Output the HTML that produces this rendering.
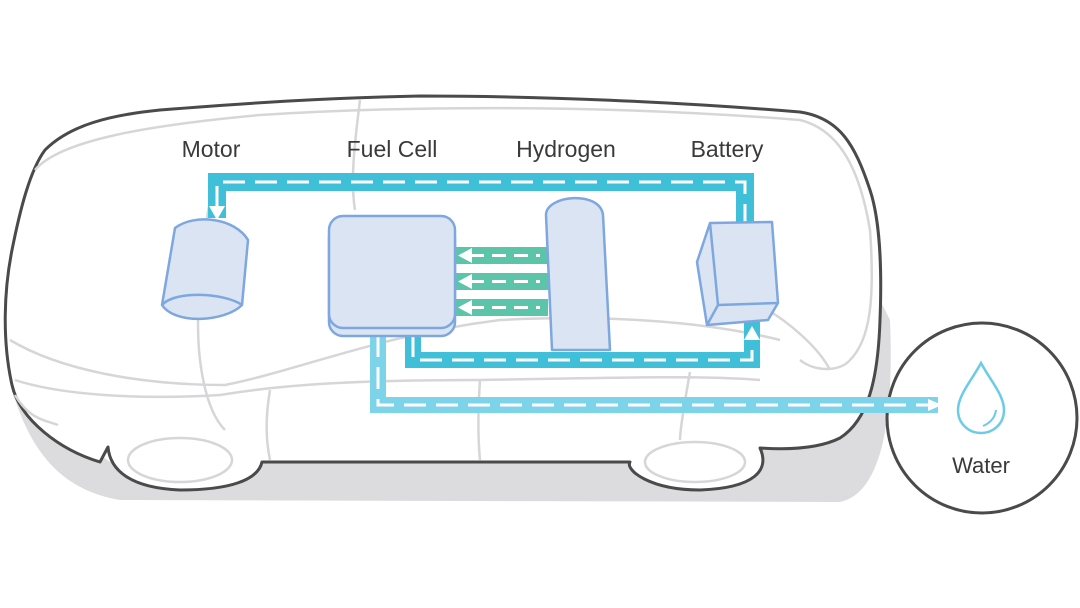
<!DOCTYPE html>
<html><head><meta charset="utf-8"><style>
html,body{margin:0;padding:0;background:#fff}
svg{display:block}
text{font-family:"Liberation Sans",sans-serif;fill:#3a3a3a}
</style></head><body>
<svg width="1080" height="608" viewBox="0 0 1080 608" xmlns="http://www.w3.org/2000/svg">
<!-- shadow -->
<path d="M12,390 C30,450 60,490 120,500 L840,502 C875,495 895,440 890,320 L880,300 L870,390 C860,430 820,450 790,448 L110,462 Z" fill="#dcdcde"/>
<!-- car body -->
<path d="M108,447 L100,462 C60,450 20,420 12,385 C2,340 4,290 12,250 C20,210 30,170 45,150 C70,125 110,115 160,110 C260,102 330,98 420,96 C540,96 680,102 800,112 C840,118 855,145 870,190 C880,220 882,270 880,320 C878,380 868,420 840,438 C820,448 790,450 760,448 C770,470 755,488 700,490 C650,490 625,470 630,462 L262,462 C258,480 230,490 180,490 C130,488 110,470 108,447 Z" fill="#fff" stroke="#4a4a4a" stroke-width="3" stroke-linejoin="round"/>
<!-- interior light lines -->
<g fill="none" stroke="#d6d6d8" stroke-width="2.5">
<path d="M35,170 C60,140 150,125 260,115 C400,106 600,104 800,120 C840,130 860,170 870,230 C875,300 870,340 850,360 C840,372 815,372 800,360"/>
<path d="M210,200 C200,260 195,320 200,360 C205,400 215,420 225,430"/>
<path d="M360,100 C355,140 350,180 355,210"/>
<path d="M10,340 C60,370 140,385 225,385 C300,370 380,335 500,320 C600,315 700,320 780,340"/>
<path d="M15,380 C60,395 140,400 220,395 C280,385 350,380 480,380 C600,378 700,375 760,380"/>
<path d="M270,390 C265,420 266,440 270,460"/>
<path d="M480,380 C478,410 478,440 480,460"/>
<path d="M690,372 C685,400 680,430 680,440"/>
<path d="M15,395 C30,420 45,420 58,425"/>
<ellipse cx="180" cy="460" rx="52" ry="22"/>
<ellipse cx="695" cy="462" rx="50" ry="20"/>
<path d="M750,300 C790,320 820,350 830,370"/>
</g>
<!-- water circle -->
<circle cx="982" cy="418" r="95" fill="#fff" stroke="#4a4a4a" stroke-width="3"/>
<path d="M981,363 C972,380 958,395 958,410 C958,424 969,433 981,433 C993,433 1004,424 1004,410 C1004,395 990,380 981,363 Z" fill="none" stroke="#6ccbe6" stroke-width="2.5"/>
<path d="M983,426 C990,423 995,418 996,410" fill="none" stroke="#6ccbe6" stroke-width="2"/>
<text x="981" y="473" font-size="22" text-anchor="middle">Water</text>
<!-- labels -->
<text x="211" y="157" font-size="23" text-anchor="middle">Motor</text>
<text x="392" y="157" font-size="23" text-anchor="middle">Fuel Cell</text>
<text x="566" y="157" font-size="23" text-anchor="middle">Hydrogen</text>
<text x="727" y="157" font-size="23" text-anchor="middle">Battery</text>
<!-- water pipe -->
<path d="M378,330 L378,405 L938,405" fill="none" stroke="#7dd3e8" stroke-width="16" stroke-linejoin="miter"/>
<path d="M378,335 L378,405 L930,405" fill="none" stroke="#fff" stroke-width="3" stroke-dasharray="22,10"/>
<path d="M928,399 L942,405 L928,411 Z" fill="#fff"/>
<!-- top loop -->
<path d="M217,218 L217,182 L745,182 L745,225" fill="none" stroke="#40c0d8" stroke-width="18"/>
<path d="M217,208 L217,182 L745,182 L745,222" fill="none" stroke="#fff" stroke-width="3" stroke-dasharray="22,10"/>
<path d="M209,206 L217,220 L225,206 Z" fill="#fff"/>
<!-- bottom loop -->
<path d="M413,328 L413,360 L752,360 L752,322" fill="none" stroke="#40c0d8" stroke-width="16"/>
<path d="M413,335 L413,360 L752,360 L752,338" fill="none" stroke="#fff" stroke-width="3" stroke-dasharray="22,10"/>
<path d="M744,340 L752,326 L760,340 Z" fill="#fff"/>
<!-- green arrows -->
<g>
<rect x="452" y="247" width="96" height="17" fill="#5cc4a8"/>
<rect x="452" y="273" width="96" height="17" fill="#5cc4a8"/>
<rect x="452" y="299" width="96" height="17" fill="#5cc4a8"/>
<g stroke="#fff" stroke-width="3" stroke-dasharray="14,8">
<line x1="470" y1="255.5" x2="540" y2="255.5"/><line x1="470" y1="281.5" x2="540" y2="281.5"/><line x1="470" y1="307.5" x2="540" y2="307.5"/>
</g>
<g fill="#fff"><path d="M458,255.5 L472,248 L472,263Z"/><path d="M458,281.5 L472,274 L472,289Z"/><path d="M458,307.5 L472,300 L472,315Z"/></g>
</g>
<!-- components -->
<g fill="#dbe4f2" stroke="#7ea7e0" stroke-width="2.5" stroke-linejoin="round">
<!-- motor -->
<path d="M175,228 C195,213 235,218 248,240 L242,305 C225,322 175,325 162,305 Z"/>
<path d="M162,305 C175,290 225,293 242,305"/>
<!-- fuel cell -->
<rect x="329" y="224" width="126" height="112" rx="14"/>
<rect x="329" y="216" width="126" height="112" rx="14"/>
<!-- hydrogen -->
<path d="M546,215 C546,195 600,190 603,215 L610,350 L552,350 Z"/>
<!-- battery -->
<path d="M710,223 L772,222 L778,303 L768,320 L707,325 L697,262 Z"/>
<path d="M710,223 L718,305 L778,303 M718,305 L707,325"/>
</g>
</svg>
</body></html>
